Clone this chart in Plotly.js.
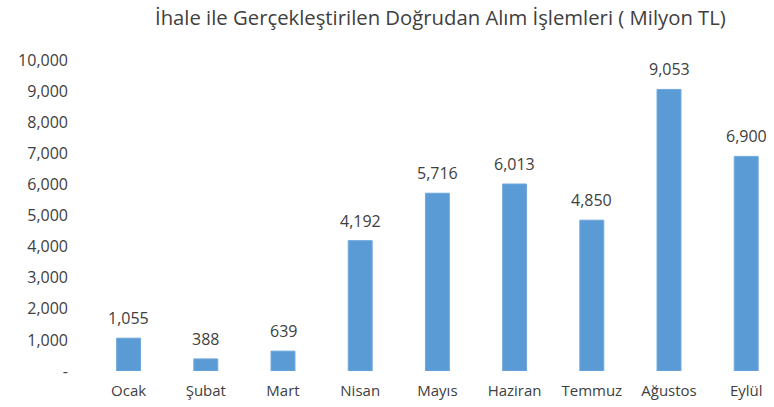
<!DOCTYPE html>
<html>
<head>
<meta charset="utf-8">
<script src="https://cdn.plot.ly/plotly-3.0.1.min.js"></script>
<style>html,body{margin:0;padding:0;background:#fff;}#chart{width:774px;height:407px;}</style>
</head>
<body>
<div id="chart"></div>
<script>
const months = ["Ocak", "Şubat", "Mart", "Nisan", "Mayıs", "Haziran", "Temmuz", "Ağustos", "Eylül"];
const values = [1055, 388, 639, 4192, 5716, 6013, 4850, 9053, 6900];
const tickValues = [0, 1000, 2000, 3000, 4000, 5000, 6000, 7000, 8000, 9000, 10000];
const tickLabels = ["-", "1,000", "2,000", "3,000", "4,000", "5,000", "6,000", "7,000", "8,000", "9,000", "10,000"];
const titleText = "İhale ile Gerçekleştirilen Doğrudan Alım İşlemleri ( Milyon TL)";

const fontFam = "Open Sans, Noto Sans, sans-serif";
const txtColor = "#404040";

const trace = {
  type: "bar",
  x: months,
  y: values,
  marker: {color: "#5B9BD5", line: {color: "#6FA8DC", width: 1}},
  width: 0.31,
  hoverinfo: "none"
};

const annotations = months.map((m, i) => ({
  x: m, y: values[i], xref: "x", yref: "y",
  text: values[i].toLocaleString("en-US"),
  showarrow: false, yanchor: "bottom", yshift: 7,
  font: {family: fontFam, size: 16, color: txtColor}
}));

const layout = {
  width: 774, height: 407,
  margin: {l: 90, r: 0, t: 60, b: 36},
  paper_bgcolor: "#fff", plot_bgcolor: "#fff",
  showlegend: false,
  title: {text: titleText, font: {family: fontFam, size: 20.3, color: txtColor}, x: 0.569, xanchor: "center", y: 0.955, yanchor: "middle"},
  xaxis: {
    range: [-0.5, 8.36], showline: false, showgrid: false, zeroline: false, ticks: "",
    ticklabelstandoff: 9,
    tickfont: {family: fontFam, size: 15, color: txtColor}, fixedrange: true
  },
  yaxis: {
    range: [0, 10000], tickvals: tickValues, ticktext: tickLabels,
    showgrid: false, zeroline: false, showline: false, ticks: "",
    ticklabelstandoff: 21,
    tickfont: {family: fontFam, size: 16, color: txtColor}, fixedrange: true
  },
  annotations: annotations
};

Plotly.newPlot("chart", [trace], layout, {staticPlot: true, displayModeBar: false});
</script>
</body>
</html>
